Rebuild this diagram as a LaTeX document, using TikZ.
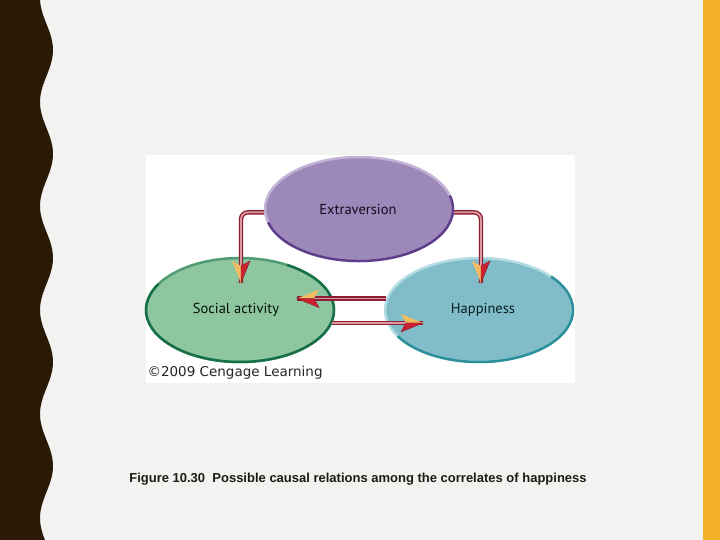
\documentclass[tikz,border=0pt]{standalone}
\usepackage{fontspec}
\setmainfont{Liberation Sans}
\newfontfamily\labelfont{PT Sans}
\newfontfamily\creditfont{DejaVu Sans}
\usetikzlibrary{shapes.geometric, positioning}
\definecolor{bggray}{HTML}{F2F2F0}
\definecolor{stripbrown}{HTML}{2A1A05}
\definecolor{stripgold}{HTML}{F4B02A}
\definecolor{extfill}{HTML}{9C88B9}
\definecolor{extlight}{HTML}{C2B3D6}
\definecolor{extdark}{HTML}{5E3E8A}
\definecolor{socfill}{HTML}{8EC6A0}
\definecolor{soclight}{HTML}{4F9C70}
\definecolor{socdark}{HTML}{17704A}
\definecolor{hapfill}{HTML}{80BDC8}
\definecolor{haplight}{HTML}{B4DCE2}
\definecolor{hapdark}{HTML}{2A8E9B}
\definecolor{linkred}{HTML}{8C1F32}
\definecolor{linkpink}{HTML}{D99AA2}
\definecolor{headred}{HTML}{CC2230}
\definecolor{headdark}{HTML}{8A1424}
\definecolor{headyellow}{HTML}{F3BB62}
\definecolor{captiontext}{HTML}{1E1A14}
\tikzstyle{blob}    = [ellipse, line width=2.5pt, minimum width=188pt, minimum height=104pt, inner sep=0pt, font=\labelfont\fontsize{14.5}{17}\selectfont]
\tikzstyle{link}    = [draw=linkred, line width=1.3pt, double=linkpink, double distance=1.8pt, rounded corners=7pt]
\tikzstyle{rim}     = [line width=2.5pt]
\tikzset{head/.pic={
  \fill[headyellow] (0,0) -- (-22,9) -- (-17,0) -- cycle;
  \filldraw[fill=headred, draw=headdark, line width=0.4pt] (0,0) -- (-22,-9) -- (-17,0) -- cycle;
}}

\begin{document}
\begin{tikzpicture}[x=1pt, y=-1pt]

\useasboundingbox (0,0) rectangle (720,540);
\fill[bggray] (0,0) rectangle (720,540);
\fill[stripbrown] (0,0) -- plot[domain=0:540, samples=217] ({46.5+6.5*cos(3.4615*(\x-50))}, \x) -- (0,540) -- cycle;
\fill[stripgold] (703,0) rectangle (720,540);
\fill[white] (146,155) rectangle (575,383);

\node[blob, fill=extfill, draw=extlight, text=black!80!extdark] (EXT) at (359,209) {Extraversion\kern2pt};
\node[blob, fill=socfill, draw=soclight, text=black!85!socdark] (SOC) at (240,310) {Social activity\kern8pt};
\node[blob, fill=hapfill, draw=haplight, text=black!80!hapdark] (HAP) at (479,310) {\kern8pt Happiness};

\draw[rim, extdark] ([shift={(15:94pt and 52pt)}]EXT.center) arc[start angle=15, end angle=-165, x radius=94pt, y radius=52pt];
\draw[rim, socdark] ([shift={(60:94pt and 52pt)}]SOC.center) arc[start angle=60, end angle=-210, x radius=94pt, y radius=52pt];
\draw[rim, hapdark] ([shift={(40:94pt and 52pt)}]HAP.center) arc[start angle=40, end angle=-150, x radius=94pt, y radius=52pt];

\coordinate (T1) at (241,283);
\coordinate (T2) at (481,283);
\coordinate (T3) at (297,299);
\coordinate (T4) at (423,323);

\draw[link] (EXT.182) -| (T1);
\draw[link] (EXT.358) -| (T2);
\draw[link] (HAP.173) -- (HAP.173 -| T3);
\draw[link] (SOC.352) -- (SOC.352 -| T4);

\pic[rotate=-90] at (T1) {head};
\pic[rotate=-90] at (T2) {head};
\pic[rotate=180] at (HAP.173 -| T3) {head};
\pic[yscale=-1] at (SOC.352 -| T4) {head};

\node[anchor=west, font=\creditfont\fontsize{13.5}{16}\selectfont, text=black!85] (CRED) at (144,373) {©2009 Cengage Learning};

\node[font=\bfseries\fontsize{13}{15}\selectfont, text=captiontext] (CAP) at (358,479) {Figure 10.30\ \ Possible causal relations among the correlates of happiness};

\end{tikzpicture}
\end{document}
